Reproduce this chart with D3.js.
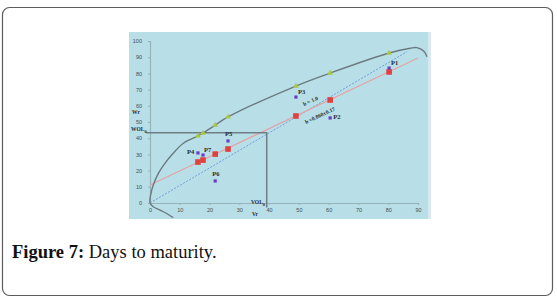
<!DOCTYPE html>
<html>
<head>
<meta charset="utf-8">
<script src="https://cdn.jsdelivr.net/npm/d3@7"></script>
<style>
  html, body { margin: 0; padding: 0; background: #fff; }
  svg { display: block; }
</style>
</head>
<body>
<div id="chart"></div>
<script>
// data (Vr / Wr graph)
const parents = ['P4', 'P7', 'P6', 'P5', 'P3', 'P2', 'P1'];
const vr = [16.1, 17.8, 21.9, 26.2, 49, 60.5, 80.3];
const wrObserved = [30.9, 29.6, 13.6, 38.3, 65.4, 52.5, 83.3];
const wrFitted = [25.3, 26.5, 30.2, 33.3, 53.7, 63.6, 80.9];
const wrLimit = [41.4, 43.2, 48.1, 53.1, 72.2, 80.2, 92.6];

// limiting parabola as drawn
const curveX = [7.8, 4.5, 1.1, 0, 0.2, 1.1, 2.8, 5.0, 7.8, 11.2, 16.1, 17.8, 21.9, 26.2, 49, 60.5, 80.3, 87.4, 89.6, 91.9, 93];
const curveY = [-9, -5.4, -2.3, 0, 4.9, 11.1, 18.3, 24.5, 30.7, 36.9, 41.4, 43.2, 48.1, 53.1, 72.2, 80.2, 92.6, 95.5, 95.9, 93.8, 90.3];

// regression line and unit slope line
const regX = [0, 90];
const regY = [11.1, 89.5];
const unitX = [0, 86.3];
const unitY = [0, 93.4];

// W(OL0) / V(OL0) guide
const guideX = [-1.3, 39.2, 39.2];
const guideY = [43.3, 43.3, -2.8];

const xTicks = [0, 10, 20, 30, 40, 50, 60, 70, 80, 90];
const yTicks = [0, 10, 20, 30, 40, 50, 60, 70, 80, 90, 100];

// P label offsets [dx, dy] in px
const labelOffset = {
  P1: [2, -3], P2: [3, 1], P3: [2, -3], P4: [-11, 1],
  P5: [-3, -5], P6: [-3, -5], P7: [1, -3]
};

const W = 557, H = 304;
const svg = d3.select('#chart').append('svg')
    .attr('width', W)
    .attr('height', H);

// card
svg.append('rect')
    .attr('x', 2.5).attr('y', 7.5)
    .attr('width', 550).attr('height', 288)
    .attr('rx', 7)
    .attr('fill', '#fff')
    .attr('stroke', '#5c5c5c')
    .attr('stroke-width', 1.2);

// chart panel
svg.append('rect')
    .attr('x', 129).attr('y', 32)
    .attr('width', 302).attr('height', 187)
    .attr('fill', '#b8dfe7');
svg.append('rect')
    .attr('x', 428).attr('y', 32)
    .attr('width', 3).attr('height', 187)
    .attr('fill', '#d7e9ee');

const x = d3.scaleLinear().domain([0, 90]).range([150, 418]);
const y = d3.scaleLinear().domain([0, 100]).range([203, 41]);

const xAxis = svg.append('g')
    .attr('transform', 'translate(0,' + y(0) + ')')
    .call(d3.axisBottom(x).tickValues(xTicks).tickSize(2).tickPadding(3));
const yAxis = svg.append('g')
    .attr('transform', 'translate(' + x(0) + ',0)')
    .call(d3.axisLeft(y).tickValues(yTicks).tickSize(2).tickPadding(6));
[xAxis, yAxis].forEach((a) => {
  a.select('.domain').attr('stroke', '#97b3ba').attr('stroke-width', 1.2);
  a.selectAll('.tick line').attr('stroke', '#97b3ba');
  a.selectAll('.tick text')
      .attr('fill', '#4a4a4a')
      .attr('font-family', 'Liberation Sans, Arial, sans-serif')
      .attr('font-size', 5.5);
});

const line = d3.line().x((d) => x(d[0])).y((d) => y(d[1]));

// unit slope line (dotted blue)
svg.append('path')
    .datum(d3.zip(unitX, unitY))
    .attr('d', line)
    .attr('fill', 'none')
    .attr('stroke', '#6d9fd6')
    .attr('stroke-width', 1)
    .attr('stroke-dasharray', '2,1.5');

// regression line (pink)
svg.append('path')
    .datum(d3.zip(regX, regY))
    .attr('d', line)
    .attr('fill', 'none')
    .attr('stroke', '#e3a3a6')
    .attr('stroke-width', 1.2);

// guide lines
svg.append('path')
    .datum(d3.zip(guideX, guideY))
    .attr('d', line)
    .attr('fill', 'none')
    .attr('stroke', '#6e7e84')
    .attr('stroke-width', 1.5);

// limiting parabola
svg.append('path')
    .datum(d3.zip(curveX, curveY))
    .attr('d', line.curve(d3.curveCatmullRom.alpha(0.5)))
    .attr('fill', 'none')
    .attr('stroke', '#6b7a80')
    .attr('stroke-width', 1.4);

// limit points (green triangles)
svg.selectAll('.limit')
    .data(d3.zip(vr, wrLimit))
    .enter()
    .append('path')
    .attr('class', 'limit')
    .attr('d', d3.symbol(d3.symbolTriangle, 14))
    .attr('transform', (d) => 'translate(' + x(d[0]) + ',' + y(d[1]) + ')')
    .attr('fill', '#a9c93c');

// fitted points (red squares)
svg.selectAll('.fit')
    .data(d3.zip(vr, wrFitted))
    .enter()
    .append('rect')
    .attr('class', 'fit')
    .attr('x', (d) => x(d[0]) - 2.8)
    .attr('y', (d) => y(d[1]) - 2.8)
    .attr('width', 5.6)
    .attr('height', 5.6)
    .attr('fill', '#e0413f');

// observed parents (purple)
const obs = svg.selectAll('.obs')
    .data(d3.zip(vr, wrObserved, parents))
    .enter()
    .append('g')
    .attr('class', 'obs')
    .attr('transform', (d) => 'translate(' + x(d[0]) + ',' + y(d[1]) + ')');
obs.append('rect')
    .attr('x', -1.6).attr('y', -1.6)
    .attr('width', 3.2).attr('height', 3.2)
    .attr('fill', '#6a3ec4');
obs.append('text')
    .attr('x', (d) => labelOffset[d[2]][0])
    .attr('y', (d) => labelOffset[d[2]][1])
    .attr('font-family', 'Liberation Serif, serif')
    .attr('font-weight', 'bold')
    .attr('font-size', 6.5)
    .attr('fill', '#2b2b2b')
    .text((d) => d[2]);

// slope labels
const labelFont = (sel) => sel
    .attr('font-family', 'Liberation Serif, serif')
    .attr('font-weight', 'bold')
    .attr('font-size', 5.5)
    .attr('fill', '#2b2b2b');
svg.append('text')
    .attr('transform', 'translate(304,106) rotate(-24)')
    .call(labelFont)
    .text('b = 1.0');
svg.append('text')
    .attr('transform', 'translate(306,124) rotate(-25)')
    .call(labelFont)
    .text('b =0.860±0.17');

// axis labels
const wol = svg.append('text')
    .attr('x', 131).attr('y', 131)
    .call(labelFont);
wol.append('tspan').text('WOL');
wol.append('tspan').attr('font-size', 4.5).attr('dy', 1.5).text('0');

svg.append('text')
    .attr('x', 132).attr('y', 114)
    .call(labelFont)
    .text('Wr');

const vol = svg.append('text')
    .attr('x', 251).attr('y', 204)
    .call(labelFont);
vol.append('tspan').text('VOL');
vol.append('tspan').attr('font-size', 4.5).attr('dy', 1.5).text('0');

svg.append('text')
    .attr('x', 252).attr('y', 216)
    .call(labelFont)
    .text('Vr');

// caption
const cap = svg.append('text')
    .attr('x', 12).attr('y', 258)
    .attr('font-family', 'Liberation Serif, serif')
    .attr('font-size', 18.5)
    .attr('fill', '#111');
cap.append('tspan').attr('font-weight', 'bold').text('Figure 7:');
cap.append('tspan').text(' Days to maturity.');
</script>
</body>
</html>
